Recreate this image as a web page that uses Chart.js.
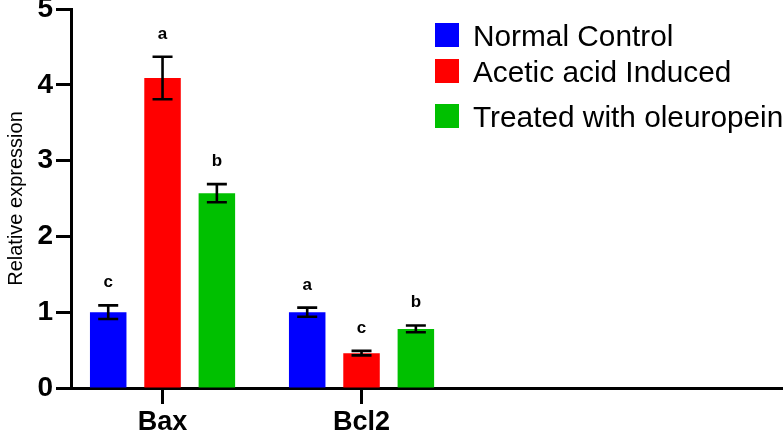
<!DOCTYPE html>
<html>
<head>
<meta charset="utf-8">
<script src="https://cdn.jsdelivr.net/npm/chart.js@4.4.1/dist/chart.umd.min.js"></script>
<style>
    html, body { margin: 0; padding: 0; background: #fff; }
    #wrap { width: 783px; height: 434px; position: relative; }
    .xtick { position: absolute; width: 3px; height: 16px; background: #000; }
</style>
</head>
<body>
<div id="wrap"><canvas id="myChart" width="783" height="434"></canvas></div>
<script>
var categories = ['Bax', 'Bcl2'];
var seriesNames = ['Normal Control', 'Acetic acid Induced', 'Treated with oleuropein'];
var seriesColors = ['#0000FF', '#FF0000', '#00C000'];

var normalControl = [1.0, 1.0];
var aceticAcid = [4.09, 0.46];
var oleuropein = [2.57, 0.78];

var normalErr = [0.09, 0.06];
var aceticErr = [0.28, 0.03];
var oleuropeinErr = [0.12, 0.045];

var normalLetters = ['c', 'a'];
var aceticLetters = ['a', 'c'];
var oleuropeinLetters = ['b', 'b'];

var yTicks = [0, 1, 2, 3, 4, 5];

var fontFam = 'Arial, "Liberation Sans", sans-serif';
Chart.defaults.font.family = fontFam;
Chart.defaults.color = '#000';

function toPoints(arr) {
    return arr.map(function(v, i) { return { x: i, y: v }; });
}

function montarDataset(idx, values, errs, letters) {
    return {
        label: seriesNames[idx],
        data: toPoints(values),
        errors: errs,
        letters: letters,
        backgroundColor: seriesColors[idx],
        borderWidth: 0,
        categoryPercentage: 0.819,
        barPercentage: 0.672
    };
}

// barras de erro + letras
var errorBars = {
    id: 'errorBars',
    afterDatasetsDraw: function(chart) {
        var ctx = chart.ctx;
        var yScale = chart.scales.y;
        ctx.save();
        ctx.strokeStyle = '#000';
        ctx.lineWidth = 2.6;
        ctx.fillStyle = '#000';
        ctx.font = 'bold 17px ' + fontFam;
        ctx.textAlign = 'center';
        ctx.textBaseline = 'alphabetic';
        chart.data.datasets.forEach(function(ds, d) {
            var meta = chart.getDatasetMeta(d);
            meta.data.forEach(function(bar, i) {
                var v = ds.data[i].y;
                var e = ds.errors[i];
                var top = yScale.getPixelForValue(v + e);
                var bot = yScale.getPixelForValue(v - e);
                ctx.beginPath();
                ctx.moveTo(bar.x, top);
                ctx.lineTo(bar.x, bot);
                ctx.moveTo(bar.x - 10, top);
                ctx.lineTo(bar.x + 10, top);
                ctx.moveTo(bar.x - 10, bot);
                ctx.lineTo(bar.x + 10, bot);
                ctx.stroke();
                ctx.fillText(ds.letters[i], bar.x, top - 18);
            });
        });
        ctx.restore();
    }
};

// legenda à direita
var legendaDireita = {
    id: 'legendaDireita',
    afterDraw: function(chart) {
        var ctx = chart.ctx;
        var rowsTop = [23, 59, 104];
        ctx.save();
        ctx.font = '29.8px ' + fontFam;
        ctx.textAlign = 'left';
        ctx.textBaseline = 'alphabetic';
        chart.data.datasets.forEach(function(ds, d) {
            ctx.fillStyle = ds.backgroundColor;
            ctx.fillRect(435, rowsTop[d], 24, 24);
            ctx.fillStyle = '#000';
            ctx.fillText(ds.label, 473, rowsTop[d] + 23);
        });
        ctx.restore();
    }
};

function montarGrafico() {
    var ctx = document.getElementById('myChart').getContext('2d');
    myChart = new Chart(ctx, {
        type: 'bar',
        data: {
            datasets: [
                montarDataset(0, normalControl, normalErr, normalLetters),
                montarDataset(1, aceticAcid, aceticErr, aceticLetters),
                montarDataset(2, oleuropein, oleuropeinErr, oleuropeinLetters)
            ]
        },
        options: {
            responsive: false,
            animation: false,
            layout: { padding: { top: 9, right: 0, bottom: 0, left: 0 } },
            plugins: {
                legend: { display: false },
                tooltip: { enabled: false }
            },
            scales: {
                x: {
                    type: 'linear',
                    offset: false,
                    bounds: 'data',
                    min: -0.46,
                    max: 3.118,
                    afterBuildTicks: function(scale) {
                        scale.ticks = categories.map(function(c, i) { return { value: i }; });
                    },
                    afterFit: function(scale) {
                        scale.height = 46;
                        scale.paddingLeft = 0;
                        scale.paddingRight = 0;
                    },
                    ticks: {
                        autoSkip: false,
                        maxRotation: 0,
                        padding: 2,
                        color: '#000',
                        font: { size: 27, weight: 'bold' },
                        callback: function(value, index) { return categories[index]; }
                    },
                    grid: {
                        offset: false,
                        drawOnChartArea: false,
                        color: '#000',
                        lineWidth: 3,
                        tickLength: 16,
                        tickWidth: 3,
                        tickColor: '#000'
                    },
                    border: { color: '#000', width: 3 }
                },
                y: {
                    min: yTicks[0],
                    max: yTicks[yTicks.length - 1],
                    afterBuildTicks: function(scale) {
                        scale.ticks = yTicks.map(function(v) { return { value: v }; });
                    },
                    afterFit: function(scale) {
                        scale.width = 71;
                        scale.paddingTop = 0;
                        scale.paddingBottom = 0;
                    },
                    ticks: {
                        padding: 3,
                        color: '#000',
                        font: { size: 28, weight: 'bold' }
                    },
                    grid: {
                        drawOnChartArea: false,
                        tickLength: 15,
                        tickWidth: 3,
                        tickColor: '#000'
                    },
                    border: { color: '#000', width: 3 },
                    title: {
                        display: true,
                        text: 'Relative expression',
                        color: '#000',
                        font: { size: 20 },
                        padding: { top: 4, bottom: 0 }
                    }
                }
            }
        },
        plugins: [errorBars, legendaDireita]
    });

    // tracinhos do eixo x por cima do canvas, na posição da escala
    var wrap = document.getElementById('wrap');
    var xs = myChart.scales.x;
    categories.forEach(function(c, i) {
        var tk = document.createElement('div');
        tk.className = 'xtick';
        tk.style.left = (xs.getPixelForValue(i) - 1.5) + 'px';
        tk.style.top = myChart.chartArea.bottom + 'px';
        wrap.appendChild(tk);
    });
}

var myChart;
montarGrafico();
</script>
</body>
</html>
